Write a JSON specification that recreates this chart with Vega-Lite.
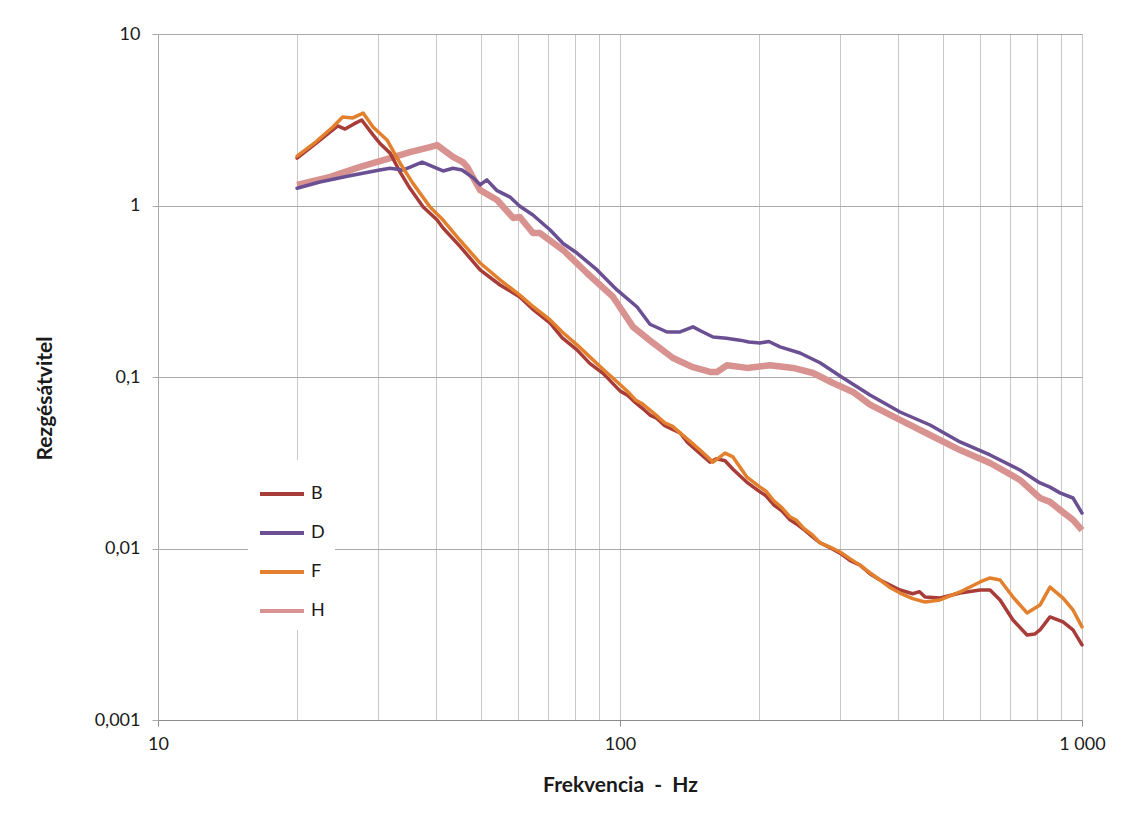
{
  "$schema": "https://vega.github.io/schema/vega-lite/v6.json",
  "width": 924,
  "height": 686,
  "autosize": {"type": "none"},
  "padding": {"left": 158, "top": 34, "right": 54, "bottom": 98},
  "background": "white",
  "config": {
    "font": "Lato",
    "view": {"stroke": null},
    "axis": {"labelColor": "#1a1a1a", "titleColor": "#1a1a1a", "labelFontSize": 18, "titleFontSize": 21, "titleFontWeight": "bold", "labelFont": "Lato", "titleFont": "Lato"}
  },
  "data": {
    "values": [
      {"f": 20, "v": 1.89, "s": "B"}, {"f": 22, "v": 2.31, "s": "B"}, {"f": 24.5, "v": 2.91, "s": "B"}, {"f": 25.4, "v": 2.79, "s": "B"},
      {"f": 26.5, "v": 2.98, "s": "B"}, {"f": 27.6, "v": 3.15, "s": "B"}, {"f": 29.2, "v": 2.58, "s": "B"}, {"f": 30.2, "v": 2.31, "s": "B"},
      {"f": 31.8, "v": 2.02, "s": "B"}, {"f": 33.4, "v": 1.57, "s": "B"}, {"f": 35.1, "v": 1.26, "s": "B"}, {"f": 37.5, "v": 0.98, "s": "B"},
      {"f": 40.2, "v": 0.823, "s": "B"}, {"f": 41.4, "v": 0.739, "s": "B"}, {"f": 45, "v": 0.58, "s": "B"}, {"f": 49.8, "v": 0.421, "s": "B"},
      {"f": 55, "v": 0.344, "s": "B"}, {"f": 60.7, "v": 0.293, "s": "B"}, {"f": 65, "v": 0.246, "s": "B"}, {"f": 70.6, "v": 0.206, "s": "B"},
      {"f": 75, "v": 0.169, "s": "B"}, {"f": 80.7, "v": 0.144, "s": "B"}, {"f": 86, "v": 0.12, "s": "B"}, {"f": 91.9, "v": 0.105, "s": "B"},
      {"f": 100, "v": 0.083, "s": "B"}, {"f": 104, "v": 0.078, "s": "B"}, {"f": 108, "v": 0.0708, "s": "B"}, {"f": 112, "v": 0.0655, "s": "B"},
      {"f": 116.1, "v": 0.06, "s": "B"}, {"f": 120, "v": 0.0575, "s": "B"}, {"f": 125, "v": 0.052, "s": "B"}, {"f": 130, "v": 0.0495, "s": "B"},
      {"f": 134.9, "v": 0.0472, "s": "B"}, {"f": 140, "v": 0.0415, "s": "B"}, {"f": 145, "v": 0.0382, "s": "B"}, {"f": 150, "v": 0.0352, "s": "B"},
      {"f": 156.6, "v": 0.0319, "s": "B"}, {"f": 162, "v": 0.0334, "s": "B"}, {"f": 168.8, "v": 0.0325, "s": "B"}, {"f": 175.6, "v": 0.029, "s": "B"},
      {"f": 188, "v": 0.0244, "s": "B"}, {"f": 200.9, "v": 0.0214, "s": "B"}, {"f": 207, "v": 0.0203, "s": "B"}, {"f": 215, "v": 0.018, "s": "B"},
      {"f": 224, "v": 0.0166, "s": "B"}, {"f": 233.3, "v": 0.0147, "s": "B"}, {"f": 241, "v": 0.0139, "s": "B"}, {"f": 250, "v": 0.0129, "s": "B"},
      {"f": 260, "v": 0.0118, "s": "B"}, {"f": 271, "v": 0.0108, "s": "B"}, {"f": 285, "v": 0.0101, "s": "B"}, {"f": 299.4, "v": 0.0094, "s": "B"},
      {"f": 315, "v": 0.0085, "s": "B"}, {"f": 330.8, "v": 0.008, "s": "B"}, {"f": 348, "v": 0.0071, "s": "B"}, {"f": 365.5, "v": 0.00655, "s": "B"},
      {"f": 385, "v": 0.0061, "s": "B"}, {"f": 403.7, "v": 0.00573, "s": "B"}, {"f": 430, "v": 0.00545, "s": "B"}, {"f": 445, "v": 0.0056, "s": "B"},
      {"f": 457.4, "v": 0.00521, "s": "B"}, {"f": 492.8, "v": 0.00514, "s": "B"}, {"f": 544.5, "v": 0.0055, "s": "B"}, {"f": 601.6, "v": 0.00573, "s": "B"},
      {"f": 632.4, "v": 0.00573, "s": "B"}, {"f": 664.7, "v": 0.00501, "s": "B"}, {"f": 708.9, "v": 0.00383, "s": "B"}, {"f": 760.3, "v": 0.00313, "s": "B"},
      {"f": 790, "v": 0.00317, "s": "B"}, {"f": 811.1, "v": 0.00335, "s": "B"}, {"f": 852.5, "v": 0.00399, "s": "B"}, {"f": 909.7, "v": 0.00373, "s": "B"},
      {"f": 956.1, "v": 0.00335, "s": "B"}, {"f": 1000, "v": 0.00274, "s": "B"},

      {"f": 20, "v": 1.26, "s": "D"}, {"f": 22.4, "v": 1.37, "s": "D"}, {"f": 26, "v": 1.49, "s": "D"}, {"f": 30.2, "v": 1.61, "s": "D"},
      {"f": 31.8, "v": 1.65, "s": "D"}, {"f": 33.9, "v": 1.61, "s": "D"}, {"f": 37.3, "v": 1.79, "s": "D"}, {"f": 41.4, "v": 1.59, "s": "D"},
      {"f": 43.5, "v": 1.65, "s": "D"}, {"f": 45.5, "v": 1.61, "s": "D"}, {"f": 48.1, "v": 1.45, "s": "D"}, {"f": 49.8, "v": 1.32, "s": "D"},
      {"f": 51.5, "v": 1.41, "s": "D"}, {"f": 54.2, "v": 1.22, "s": "D"}, {"f": 57.8, "v": 1.12, "s": "D"}, {"f": 60.7, "v": 0.99, "s": "D"},
      {"f": 64.8, "v": 0.88, "s": "D"}, {"f": 70.6, "v": 0.72, "s": "D"}, {"f": 75.3, "v": 0.6, "s": "D"}, {"f": 80.7, "v": 0.528, "s": "D"},
      {"f": 89.2, "v": 0.421, "s": "D"}, {"f": 98.5, "v": 0.322, "s": "D"}, {"f": 108.9, "v": 0.256, "s": "D"}, {"f": 116.1, "v": 0.203, "s": "D"},
      {"f": 126.4, "v": 0.183, "s": "D"}, {"f": 134.9, "v": 0.183, "s": "D"}, {"f": 143.9, "v": 0.196, "s": "D"}, {"f": 150, "v": 0.185, "s": "D"},
      {"f": 159, "v": 0.171, "s": "D"}, {"f": 170, "v": 0.168, "s": "D"}, {"f": 181.8, "v": 0.164, "s": "D"}, {"f": 190, "v": 0.16, "s": "D"},
      {"f": 200.9, "v": 0.158, "s": "D"}, {"f": 210, "v": 0.161, "s": "D"}, {"f": 222, "v": 0.15, "s": "D"},
      {"f": 245.2, "v": 0.138, "s": "D"}, {"f": 271, "v": 0.121, "s": "D"}, {"f": 300, "v": 0.101, "s": "D"}, {"f": 347.6, "v": 0.0785, "s": "D"},
      {"f": 403.7, "v": 0.0625, "s": "D"}, {"f": 468.9, "v": 0.0525, "s": "D"}, {"f": 544.5, "v": 0.0418, "s": "D"}, {"f": 632.4, "v": 0.0351, "s": "D"},
      {"f": 734, "v": 0.0287, "s": "D"}, {"f": 811.1, "v": 0.0241, "s": "D"}, {"f": 852.5, "v": 0.0228, "s": "D"}, {"f": 896.1, "v": 0.0211, "s": "D"},
      {"f": 956.1, "v": 0.0197, "s": "D"}, {"f": 1000, "v": 0.0161, "s": "D"},

      {"f": 20, "v": 1.94, "s": "F"}, {"f": 22, "v": 2.36, "s": "F"}, {"f": 23.9, "v": 2.87, "s": "F"}, {"f": 25.1, "v": 3.28, "s": "F"},
      {"f": 26.4, "v": 3.24, "s": "F"}, {"f": 27.8, "v": 3.46, "s": "F"}, {"f": 29.2, "v": 2.87, "s": "F"}, {"f": 31.3, "v": 2.41, "s": "F"},
      {"f": 33.4, "v": 1.77, "s": "F"}, {"f": 35.6, "v": 1.35, "s": "F"}, {"f": 38.8, "v": 0.98, "s": "F"}, {"f": 41.4, "v": 0.823, "s": "F"},
      {"f": 45, "v": 0.629, "s": "F"}, {"f": 49.8, "v": 0.462, "s": "F"}, {"f": 55, "v": 0.368, "s": "F"}, {"f": 60.7, "v": 0.3, "s": "F"},
      {"f": 65, "v": 0.256, "s": "F"}, {"f": 70.6, "v": 0.215, "s": "F"}, {"f": 75, "v": 0.183, "s": "F"}, {"f": 80.7, "v": 0.154, "s": "F"},
      {"f": 86, "v": 0.131, "s": "F"}, {"f": 91.9, "v": 0.111, "s": "F"}, {"f": 100, "v": 0.0905, "s": "F"}, {"f": 104, "v": 0.082, "s": "F"},
      {"f": 108, "v": 0.0735, "s": "F"}, {"f": 112, "v": 0.0695, "s": "F"}, {"f": 116.1, "v": 0.0642, "s": "F"}, {"f": 120, "v": 0.0595, "s": "F"},
      {"f": 125, "v": 0.054, "s": "F"}, {"f": 130, "v": 0.0515, "s": "F"}, {"f": 134.9, "v": 0.0472, "s": "F"}, {"f": 142, "v": 0.042, "s": "F"},
      {"f": 149, "v": 0.0375, "s": "F"}, {"f": 159, "v": 0.0319, "s": "F"}, {"f": 168.8, "v": 0.036, "s": "F"}, {"f": 175.6, "v": 0.0342, "s": "F"},
      {"f": 188, "v": 0.0262, "s": "F"}, {"f": 200.9, "v": 0.0228, "s": "F"}, {"f": 207, "v": 0.0216, "s": "F"}, {"f": 215, "v": 0.019, "s": "F"},
      {"f": 224, "v": 0.0173, "s": "F"}, {"f": 233.3, "v": 0.0153, "s": "F"}, {"f": 241, "v": 0.0146, "s": "F"}, {"f": 250, "v": 0.0131, "s": "F"},
      {"f": 260, "v": 0.0121, "s": "F"}, {"f": 271, "v": 0.0108, "s": "F"}, {"f": 285, "v": 0.0102, "s": "F"}, {"f": 299.4, "v": 0.00954, "s": "F"},
      {"f": 315, "v": 0.0087, "s": "F"}, {"f": 330.8, "v": 0.008, "s": "F"}, {"f": 348, "v": 0.0072, "s": "F"}, {"f": 365.5, "v": 0.00655, "s": "F"},
      {"f": 385, "v": 0.0059, "s": "F"}, {"f": 403.7, "v": 0.0055, "s": "F"}, {"f": 430, "v": 0.0051, "s": "F"}, {"f": 457.4, "v": 0.00488, "s": "F"},
      {"f": 492.8, "v": 0.00501, "s": "F"}, {"f": 544.5, "v": 0.00558, "s": "F"}, {"f": 601.6, "v": 0.00638, "s": "F"}, {"f": 632.4, "v": 0.00673, "s": "F"},
      {"f": 664.7, "v": 0.00655, "s": "F"}, {"f": 708.9, "v": 0.00521, "s": "F"}, {"f": 760.3, "v": 0.00421, "s": "F"}, {"f": 811.1, "v": 0.00468, "s": "F"},
      {"f": 852.5, "v": 0.00596, "s": "F"}, {"f": 909.7, "v": 0.00514, "s": "F"}, {"f": 956.1, "v": 0.00438, "s": "F"}, {"f": 1000, "v": 0.00349, "s": "F"},

      {"f": 20, "v": 1.32, "s": "H"}, {"f": 23.6, "v": 1.47, "s": "H"}, {"f": 27.4, "v": 1.68, "s": "H"}, {"f": 31.8, "v": 1.89, "s": "H"},
      {"f": 35.1, "v": 2.05, "s": "H"}, {"f": 38.8, "v": 2.19, "s": "H"}, {"f": 40.2, "v": 2.25, "s": "H"}, {"f": 43.5, "v": 1.92, "s": "H"},
      {"f": 45.7, "v": 1.79, "s": "H"}, {"f": 46.7, "v": 1.68, "s": "H"}, {"f": 48.1, "v": 1.45, "s": "H"}, {"f": 49.8, "v": 1.23, "s": "H"},
      {"f": 54.2, "v": 1.077, "s": "H"}, {"f": 58.7, "v": 0.846, "s": "H"}, {"f": 60.7, "v": 0.857, "s": "H"}, {"f": 64.8, "v": 0.691, "s": "H"},
      {"f": 67.1, "v": 0.691, "s": "H"}, {"f": 75.3, "v": 0.55, "s": "H"}, {"f": 84.8, "v": 0.404, "s": "H"}, {"f": 96.6, "v": 0.293, "s": "H"},
      {"f": 106.7, "v": 0.196, "s": "H"}, {"f": 117.9, "v": 0.158, "s": "H"}, {"f": 130.2, "v": 0.129, "s": "H"}, {"f": 143.9, "v": 0.114, "s": "H"},
      {"f": 156.6, "v": 0.107, "s": "H"}, {"f": 162.2, "v": 0.107, "s": "H"}, {"f": 170.5, "v": 0.117, "s": "H"}, {"f": 188.3, "v": 0.113, "s": "H"},
      {"f": 211.2, "v": 0.117, "s": "H"}, {"f": 236.9, "v": 0.113, "s": "H"}, {"f": 261.7, "v": 0.1055, "s": "H"}, {"f": 289.1, "v": 0.0923, "s": "H"},
      {"f": 319.4, "v": 0.0818, "s": "H"}, {"f": 347.6, "v": 0.069, "s": "H"}, {"f": 403.7, "v": 0.0563, "s": "H"}, {"f": 468.9, "v": 0.0459, "s": "H"},
      {"f": 544.5, "v": 0.0375, "s": "H"}, {"f": 632.4, "v": 0.0315, "s": "H"}, {"f": 734, "v": 0.0251, "s": "H"}, {"f": 811.1, "v": 0.0197, "s": "H"},
      {"f": 852.5, "v": 0.0187, "s": "H"}, {"f": 896.1, "v": 0.0168, "s": "H"}, {"f": 956.1, "v": 0.0147, "s": "H"}, {"f": 1000, "v": 0.0128, "s": "H"}
    ]
  },
  "encoding": {
    "x": {
      "field": "f",
      "type": "quantitative",
      "scale": {"type": "log", "domain": [10, 1000], "nice": false},
      "axis": {
        "title": "Frekvencia\u00a0\u00a0-\u00a0\u00a0Hz",
        "values": [10, 20, 30, 40, 50, 60, 70, 80, 90, 100, 200, 300, 400, 500, 600, 700, 800, 900, 1000],
        "labelExpr": "datum.value == 1000 ? '1 000' : datum.value == 100 ? '100' : datum.value == 10 ? '10' : ''",
        "grid": true,
        "gridColor": "#C8C8C8",
        "gridWidth": 1,
        "domainColor": "#8C8C8C",
        "tickColor": "#8C8C8C",
        "tickSize": 6,
        "tickOpacity": {"condition": {"test": "datum.value == 10 || datum.value == 100 || datum.value == 1000", "value": 1}, "value": 0},
        "labelPadding": 9,
        "labelFlush": false,
        "labelOverlap": false,
        "titleY": 65,
        "titleBaseline": "middle"
      }
    },
    "y": {
      "field": "v",
      "type": "quantitative",
      "scale": {"type": "log", "domain": [0.001, 10], "nice": false},
      "axis": {
        "title": "Rezgésátvitel",
        "values": [0.001, 0.01, 0.1, 1, 10],
        "labelExpr": "datum.value >= 1 ? format(datum.value, 'd') : replace(format(datum.value, '.3~f'), '.', ',')",
        "grid": true,
        "gridColor": "#A8A8A8",
        "domainColor": "#A8A8A8",
        "tickColor": "#A8A8A8",
        "tickSize": 6,
        "labelPadding": 12,
        "labelOverlap": false,
        "labelFlush": false,
        "titleX": -113,
        "titleY": 364,
        "titleAlign": "center",
        "titleBaseline": "middle"
      }
    },
    "color": {
      "field": "s",
      "type": "nominal",
      "scale": {"domain": ["B", "D", "F", "H"], "range": ["#A83C39", "#6A4F93", "#E3802E", "#D89390"]},
      "legend": {
        "title": null,
        "orient": "none",
        "legendX": 90,
        "legendY": 426,
        "padding": 10,
        "fillColor": "white",
        "symbolType": "stroke",
        "symbolSize": 1936,
        "symbolStrokeWidth": 4,
        "rowPadding": 6,
        "labelFontSize": 18,
        "labelOffset": 5,
        "labelColor": "#1a1a1a"
      }
    }
  },
  "layer": [
    {
      "transform": [{"filter": "datum.s == 'H'"}],
      "mark": {"type": "line", "strokeWidth": 6.5, "strokeJoin": "round", "strokeCap": "butt"}
    },
    {
      "transform": [{"filter": "datum.s != 'H'"}],
      "mark": {"type": "line", "strokeWidth": 3.5, "strokeJoin": "round", "strokeCap": "round"}
    }
  ]
}
